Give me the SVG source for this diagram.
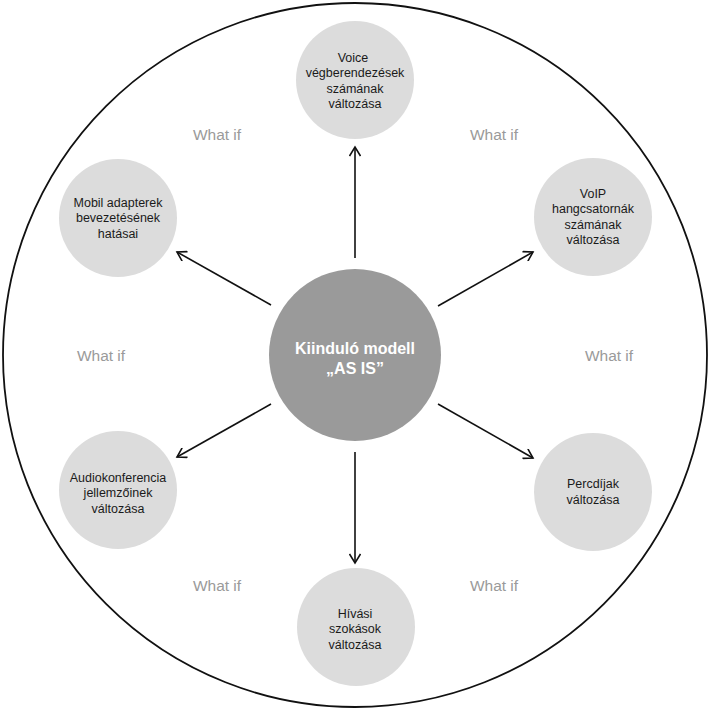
<svg xmlns="http://www.w3.org/2000/svg" width="710" height="710" viewBox="0 0 710 710">
<style>
.sat{fill:#dcdcdc}
.st{font-family:"Liberation Sans",Arial,sans-serif;font-size:12.5px;fill:#1a1a1a;text-anchor:middle}
.ct{font-family:"Liberation Sans",Arial,sans-serif;font-size:16px;font-weight:bold;fill:#ffffff;text-anchor:middle}
.wi{font-family:"Liberation Sans",Arial,sans-serif;font-size:15.5px;fill:#9a9a9a;text-anchor:middle}
.ar{stroke:#111;stroke-width:1.6;fill:none;marker-end:url(#ah)}
</style>
<defs>
<marker id="ah" viewBox="0 0 12 12" refX="10" refY="6" markerWidth="12" markerHeight="12" markerUnits="userSpaceOnUse" orient="auto">
<path d="M1,0.5 L10,6 L1,11.5" fill="none" stroke="#111" stroke-width="1.6"/>
</marker>
</defs>
<rect width="710" height="710" fill="#ffffff"/>
<circle cx="355" cy="355" r="352" fill="none" stroke="#111" stroke-width="1.8"/>
<g id="connectors">
<line class="ar" x1="355" y1="258" x2="355" y2="147"/>
<line class="ar" x1="438" y1="306" x2="533" y2="252"/>
<line class="ar" x1="438" y1="404" x2="533" y2="458"/>
<line class="ar" x1="355" y1="452" x2="355" y2="563"/>
<line class="ar" x1="271" y1="404" x2="177" y2="457"/>
<line class="ar" x1="271" y1="305" x2="177" y2="252"/>
</g>
<g id="center">
<circle cx="355" cy="355" r="86" fill="#9a9a9a"/>
<text class="ct" x="355" y="354">Kiinduló modell</text>
<text class="ct" x="355" y="374">„AS IS”</text>
</g>
<g id="n-top">
<circle class="sat" cx="355" cy="80" r="59"/>
<text class="st" x="353" y="61.5">Voice</text>
<text class="st" x="355" y="77">végberendezések</text>
<text class="st" x="355" y="92.5">számának</text>
<text class="st" x="355" y="108">változása</text>
</g>
<g id="n-topright">
<circle class="sat" cx="593" cy="217" r="59"/>
<text class="st" x="593" y="197.5">VoIP</text>
<text class="st" x="593" y="213">hangcsatornák</text>
<text class="st" x="593" y="228.5">számának</text>
<text class="st" x="593" y="244">változása</text>
</g>
<g id="n-right">
<circle class="sat" cx="593" cy="492" r="59"/>
<text class="st" x="593" y="488">Percdíjak</text>
<text class="st" x="593" y="504">változása</text>
</g>
<g id="n-bottom">
<circle class="sat" cx="356" cy="627" r="59"/>
<text class="st" x="355" y="617.5">Hívási</text>
<text class="st" x="355" y="633">szokások</text>
<text class="st" x="355" y="648.5">változása</text>
</g>
<g id="n-bottomleft">
<circle class="sat" cx="118" cy="490" r="59"/>
<text class="st" x="118" y="481.5">Audiokonferencia</text>
<text class="st" x="118" y="497">jellemzőinek</text>
<text class="st" x="118" y="512.5">változása</text>
</g>
<g id="n-topleft">
<circle class="sat" cx="118" cy="218" r="59"/>
<text class="st" x="118" y="206.5">Mobil adapterek</text>
<text class="st" x="118" y="222">bevezetésének</text>
<text class="st" x="118" y="237.5">hatásai</text>
</g>
<g id="whatif">
<text class="wi" x="217" y="139.5">What if</text>
<text class="wi" x="494" y="139.5">What if</text>
<text class="wi" x="101" y="360.5">What if</text>
<text class="wi" x="609" y="360.5">What if</text>
<text class="wi" x="217" y="590.5">What if</text>
<text class="wi" x="494" y="590.5">What if</text>
</g>
</svg>
